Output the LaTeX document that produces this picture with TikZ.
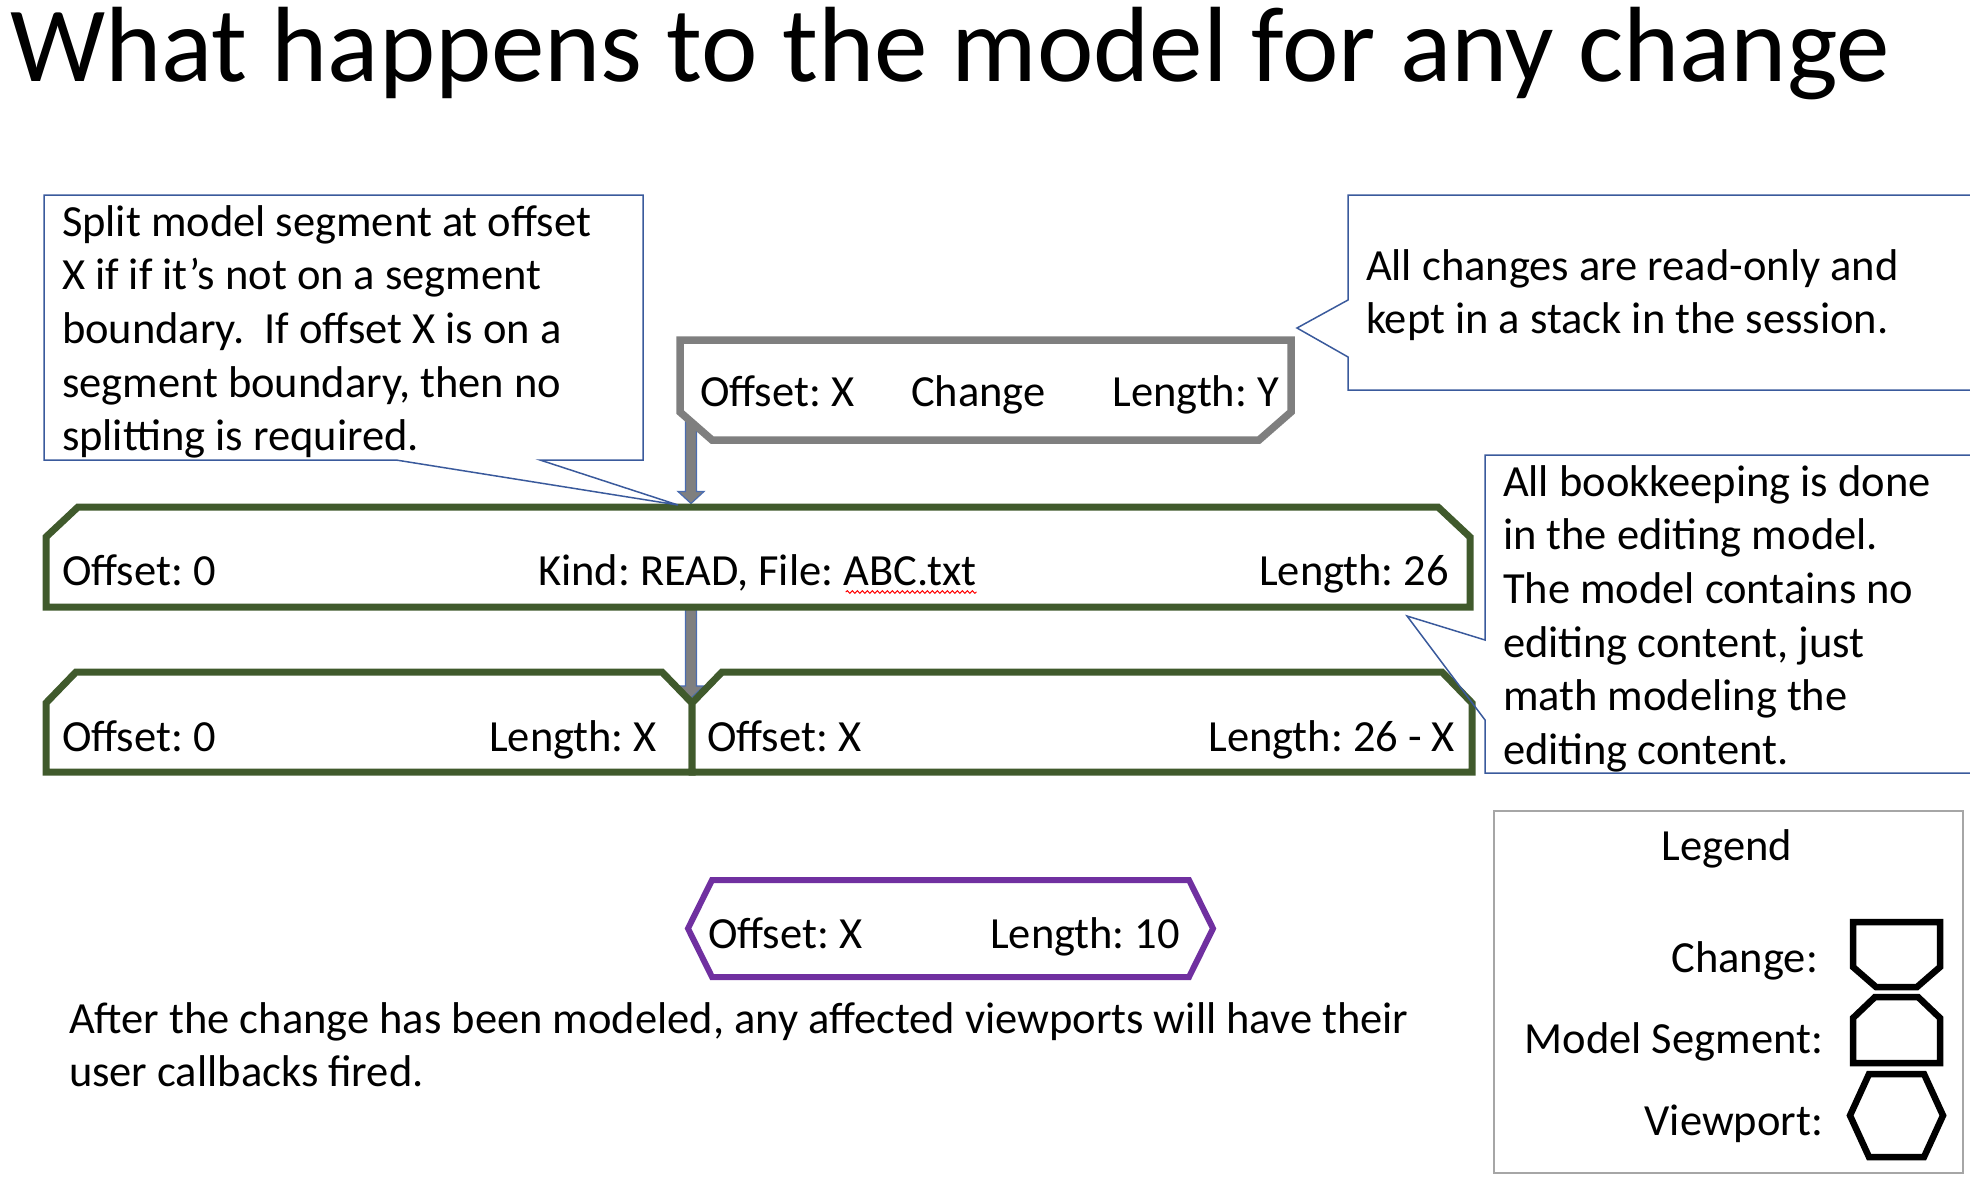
\documentclass[tikz,border=0pt]{standalone}
\usepackage{fontspec}
\setmainfont{Carlito}
\usetikzlibrary{calc,decorations.pathmorphing}
\frenchspacing

\definecolor{segGreen}{HTML}{405A2C}
\definecolor{changeGray}{HTML}{7F7F7F}
\definecolor{noteBlue}{HTML}{3A5A9C}
\definecolor{viewPurple}{HTML}{7030A0}
\definecolor{legendGray}{HTML}{A6A6A6}
\definecolor{arrowBlue}{HTML}{4A6CB0}

% lines of a note, the first baseline is the node's base
\newcommand{\textlines}[1]{\vtop{\halign{##\hfil\cr#1\crcr}}}

% outlines drawn on the anchors of a named box
\newcommand{\chamferbottom}[4]{%
  \draw[#4] (#1.north west) -- ([yshift=#3]#1.south west) -- ([xshift=#2]#1.south west)
    -- ([xshift=-#2]#1.south east) -- ([yshift=#3]#1.south east) -- (#1.north east) -- cycle;}
\newcommand{\chamfertop}[4]{%
  \draw[#4] (#1.south west) -- ([yshift=-#3]#1.north west) -- ([xshift=#2]#1.north west)
    -- ([xshift=-#2]#1.north east) -- ([yshift=-#3]#1.north east) -- (#1.south east) -- cycle;}
\newcommand{\hexoutline}[3]{%
  \draw[#3] (#1.west) -- ([xshift=#2]#1.north west) -- ([xshift=-#2]#1.north east)
    -- (#1.east) -- ([xshift=-#2]#1.south east) -- ([xshift=#2]#1.south west) -- cycle;}
\newcommand{\blockarrow}[2]{%
  \draw[flow arrow] let \p1=(#1), \p2=(#2) in
    (\x1-5.5pt,\y1) -- (\x1-5.5pt,\y2+12pt) -- (\x1-13pt,\y2+12pt) -- (\x1,\y2)
    -- (\x1+13pt,\y2+12pt) -- (\x1+5.5pt,\y2+12pt) -- (\x1+5.5pt,\y1) -- cycle;}

\begin{document}
\begin{tikzpicture}[x=1pt, y=-1pt,
  every node/.style={inner sep=0pt, outer sep=0pt},
  txt/.style={font=\fontsize{44.5}{53.7}\selectfont},
  shapebox/.style={draw=none},
  seg line/.style={draw=segGreen, line width=7pt, fill=white, line join=miter},
  change line/.style={draw=changeGray, line width=7.5pt, fill=white, line join=miter},
  view line/.style={draw=viewPurple, line width=6pt, fill=white, line join=miter},
  icon line/.style={draw=black, line width=6.5pt, fill=white, line join=miter},
  note line/.style={draw=noteBlue, line width=1.5pt, line join=miter},
  flow arrow/.style={fill=changeGray, draw=arrowBlue, line width=1.2pt},
  squiggle/.style={draw=red, line width=1pt, decorate,
    decoration={snake, amplitude=1.3pt, segment length=5pt}}]
\useasboundingbox (0,0) rectangle (1970,1180);

% Title
\node[anchor=base west, font=\fontsize{107}{128}\selectfont] (title) at (10,82)
  {What happens to the model for any change};

% Boxes
\node[shapebox, minimum width=611pt, minimum height=100pt] (change) at (985.5,390) {};
\node[shapebox, minimum width=1424pt, minimum height=100pt] (model) at (758,557) {};
\node[shapebox, minimum width=646pt, minimum height=100pt] (leftseg) at (369,722) {};
\node[shapebox, minimum width=780pt, minimum height=100pt] (rightseg) at (1082,722) {};
\node[shapebox, minimum width=525pt, minimum height=97pt] (viewport) at (950.5,928.5) {};
\coordinate (split) at (691,0);

% Arrows, behind the boxes
\blockarrow{change.center -| split}{$(model.north -| split)+(0,-3.5)$}
\blockarrow{model.center -| split}{$(leftseg.north east)+(0,26)$}

% Change
\chamferbottom{change}{32pt}{28pt}{change line}
\node[txt, anchor=base west] (change offset) at (700,406) {Offset: X};
\node[txt, anchor=base west] (change kind) at (911,406) {Change};
\node[txt, anchor=base east] (change length) at (1279,406) {Length: Y};

% Model segment
\chamfertop{model}{32pt}{30pt}{seg line}
\node[txt, anchor=base west] (model offset) at (62,585) {Offset: 0};
\node[txt, anchor=base west] (model kind) at (538,585) {Kind: READ, File: ABC.txt};
\node[txt, anchor=base east] (model length) at (1449,585) {Length: 26};
\draw[squiggle] ($(model kind.base east)+(-131,7)$) -- ($(model kind.base east)+(0,7)$);

% Split segments
\chamfertop{leftseg}{30pt}{31pt}{seg line}
\chamfertop{rightseg}{30pt}{31pt}{seg line}
\node[txt, anchor=base west] (left offset) at (62,751) {Offset: 0};
\node[txt, anchor=base east] (left length) at (657,751) {Length: X};
\node[txt, anchor=base west] (right offset) at (707,751) {Offset: X};
\node[txt, anchor=base east] (right length) at (1455,751) {Length: 26 - X};

% Viewport
\hexoutline{viewport}{24pt}{view line}
\node[txt, anchor=base west] (view offset) at (708,948) {Offset: X};
\node[txt, anchor=base east] (view length) at (1180,948) {Length: 10};

% Notes
\draw[note line] (44,195) -- (643,195) -- (643,460) -- (540,460) -- (678,505)
  -- (396,460) -- (44,460) -- cycle;
\node[txt, anchor=base west] (split note) at (62,236) {\textlines{Split model segment at offset\cr
  X if if it’s not on a segment\cr boundary.\ \ If offset X is on a\cr
  segment boundary, then no\cr splitting is required.}};

\draw[note line] (1348,195) -- (1990,195) -- (1990,390) -- (1348,390) -- (1348,357)
  -- (1297,328) -- (1348,300) -- cycle;
\node[txt, anchor=base west] (stack note) at (1366,280) {\textlines{All changes are read-only and\cr
  kept in a stack in the session.}};

\draw[note line] (1485,455) -- (1990,455) -- (1990,773) -- (1485,773) -- (1485,720)
  -- (1407,616) -- (1485,640) -- cycle;
\node[txt, anchor=base west] (model note) at (1503,496) {\textlines{All bookkeeping is done\cr
  in the editing model.\cr The model contains no\cr editing content, just\cr
  math modeling the\cr editing content.}};

\node[txt, anchor=base west] (after note) at (69,1033) {\textlines{After the change has been modeled,
  any affected viewports will have their\cr user callbacks fired.}};

% Legend
\node[draw=legendGray, line width=2.5pt, minimum width=469pt, minimum height=362pt] (legend)
  at (1728.5,992) {};
\node[txt, anchor=base] (legend title) at (1727,860) {Legend};
\node[shapebox, minimum width=87pt, minimum height=65pt] (icon change) at (1896.5,954.5) {};
\node[shapebox, minimum width=87pt, minimum height=66pt] (icon segment) at (1896.5,1030) {};
\node[shapebox, minimum width=93pt, minimum height=83pt] (icon viewport) at (1896.5,1115.5) {};
\chamferbottom{icon change}{23pt}{20pt}{icon line}
\chamfertop{icon segment}{22pt}{21pt}{icon line}
\hexoutline{icon viewport}{19pt}{icon line}
\node[txt, anchor=base east] (legend change) at (1818,972) {Change:};
\node[txt, anchor=base east] (legend segment) at (1823,1053) {Model Segment:};
\node[txt, anchor=base east] (legend viewport) at (1823,1135) {Viewport:};

\end{tikzpicture}
\end{document}
